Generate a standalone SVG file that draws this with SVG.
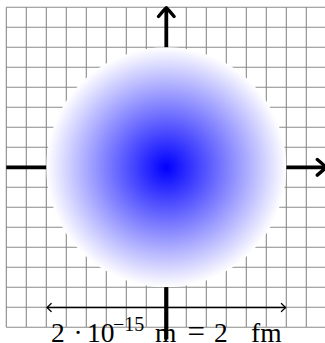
<svg xmlns="http://www.w3.org/2000/svg" width="325" height="343" viewBox="0 0 325 343">
<style>
.grid{stroke:#8a8a8a;stroke-width:1.1;fill:none}
.axis{stroke:#000;stroke-width:3.8;fill:none}
.head{stroke:#000;stroke-width:3.4;fill:none;stroke-linecap:round;stroke-linejoin:round}
.thin{stroke:#000;stroke-width:1.3;fill:none}
.thinhead{stroke:#000;stroke-width:1.2;fill:none;stroke-linecap:round;stroke-linejoin:round}
.lbl{font-family:"Liberation Serif","DejaVu Serif",serif;fill:#000}
</style>
<defs>
<radialGradient id="ballgrad" cx="0.5" cy="0.5" r="0.5">
<stop offset="0" stop-color="#0000ff"/>
<stop offset="1" stop-color="#ffffff"/>
</radialGradient>
</defs>
<rect width="325" height="343" fill="#fff"/>
<g id="grid">
<path class="grid" d="M6.3,7.3V327.3M26.3,7.3V327.3M46.3,7.3V327.3M66.3,7.3V327.3M86.3,7.3V327.3M106.3,7.3V327.3M126.3,7.3V327.3M146.3,7.3V327.3M166.3,7.3V327.3M186.3,7.3V327.3M206.3,7.3V327.3M226.3,7.3V327.3M246.3,7.3V327.3M266.3,7.3V327.3M286.3,7.3V327.3M306.3,7.3V327.3M326.3,7.3V327.3
M6.3,7.3H326.3M6.3,27.3H326.3M6.3,47.3H326.3M6.3,67.3H326.3M6.3,87.3H326.3M6.3,107.3H326.3M6.3,127.3H326.3M6.3,147.3H326.3M6.3,167.3H326.3M6.3,187.3H326.3M6.3,207.3H326.3M6.3,227.3H326.3M6.3,247.3H326.3M6.3,267.3H326.3M6.3,287.3H326.3M6.3,307.3H326.3M6.3,327.3H326.3"/>
</g>
<g id="connectors">
<path class="axis" d="M166.3,339.3V8.5"/>
<path class="head" d="M158.5,16.5Q163,11 166.3,7.8Q169.6,11 174.1,16.5"/>
<path class="axis" d="M6.3,167.3H325"/>
<path class="head" d="M317.3,159.5Q322.8,164 326,167.3Q322.8,170.6 317.3,175.1"/>
</g>
<g id="ball">
<circle cx="166.3" cy="167.3" r="120" fill="url(#ballgrad)"/>
</g>
<g id="connectors-front">
<path class="axis" d="M166.3,287.3V339.3"/>
<path id="scale-arrow" class="thin" d="M47,307.5H285.8"/>
<path class="thinhead" d="M51.2,303.5Q48.5,306.2 47,307.5Q48.5,308.8 51.2,311.5"/>
<path class="thinhead" d="M281.4,303.5Q284.1,306.2 285.6,307.5Q284.1,308.8 281.4,311.5"/>
</g>
<g id="label">
<text class="lbl" font-size="27.5" y="341.5"><tspan x="51">2</tspan><tspan x="73.6">·</tspan><tspan x="87">10</tspan><tspan x="113" y="331" font-size="20">−15</tspan><tspan x="155" y="341.5">m</tspan><tspan x="187.5" font-size="31">=</tspan><tspan x="214">2</tspan><tspan x="251">fm</tspan></text>
</g>
</svg>
